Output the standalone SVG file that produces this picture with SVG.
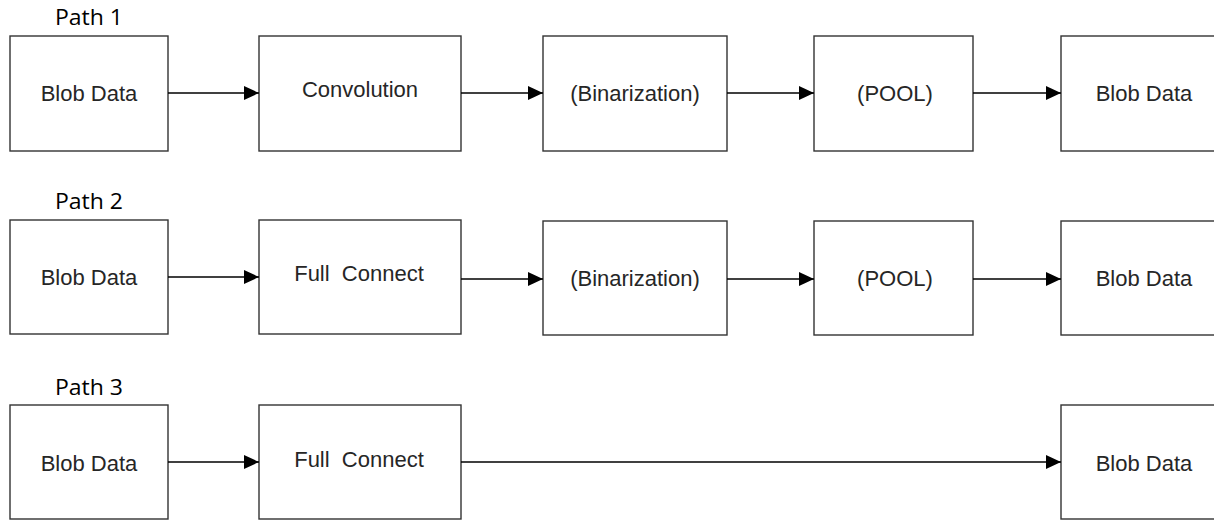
<svg xmlns="http://www.w3.org/2000/svg" width="1214" height="521" viewBox="0 0 1214 521">
  <style>
    .box { fill: #ffffff; stroke: #333333; stroke-width: 1.4; }
    .lbl { font-family: "Liberation Sans", Arial, sans-serif; font-size: 22px; fill: #262626; text-anchor: middle; }
    .path { font-family: "Open Sans", "Noto Sans", sans-serif; font-size: 22px; fill: #000000; }
    .edge { stroke: #000000; stroke-width: 1.4; fill: none; marker-end: url(#head); }
  </style>
  <defs>
    <marker id="head" markerWidth="15" markerHeight="14" refX="15" refY="7" orient="auto" markerUnits="userSpaceOnUse">
      <path d="M0,0 L15,7 L0,14 Z" fill="#000000"/>
    </marker>
  </defs>
  <rect width="1214" height="521" fill="#ffffff"/>

  <!-- row titles -->
  <text class="path" x="55" y="25" textLength="68" lengthAdjust="spacingAndGlyphs">Path 1</text>
  <text class="path" x="55" y="209" textLength="68" lengthAdjust="spacingAndGlyphs">Path 2</text>
  <text class="path" x="55" y="395" textLength="68" lengthAdjust="spacingAndGlyphs">Path 3</text>

  <!-- Path 1 -->
  <g id="p1-in"><rect class="box" x="10" y="36" width="158" height="115"/><text class="lbl" x="89" y="101">Blob Data</text></g>
  <g id="p1-conv"><rect class="box" x="259" y="36" width="202" height="115"/><text class="lbl" x="360" y="97">Convolution</text></g>
  <g id="p1-bin"><rect class="box" x="543" y="36" width="184" height="115"/><text class="lbl" x="635" y="101">(Binarization)</text></g>
  <g id="p1-pool"><rect class="box" x="814" y="36" width="159" height="115"/><text class="lbl" x="895" y="101">(POOL)</text></g>
  <g id="p1-out"><rect class="box" x="1061" y="36" width="160" height="115"/><text class="lbl" x="1144" y="101">Blob Data</text></g>

  <!-- Path 2 -->
  <g id="p2-in"><rect class="box" x="10" y="220" width="158" height="114"/><text class="lbl" x="89" y="285">Blob Data</text></g>
  <g id="p2-fc"><rect class="box" x="259" y="220" width="202" height="114"/><text class="lbl" x="359" y="281" xml:space="preserve">Full  Connect</text></g>
  <g id="p2-bin"><rect class="box" x="543" y="221" width="184" height="114"/><text class="lbl" x="635" y="286">(Binarization)</text></g>
  <g id="p2-pool"><rect class="box" x="814" y="221" width="159" height="114"/><text class="lbl" x="895" y="286">(POOL)</text></g>
  <g id="p2-out"><rect class="box" x="1061" y="221" width="160" height="114"/><text class="lbl" x="1144" y="286">Blob Data</text></g>

  <!-- Path 3 -->
  <g id="p3-in"><rect class="box" x="10" y="405" width="158" height="114"/><text class="lbl" x="89" y="471">Blob Data</text></g>
  <g id="p3-fc"><rect class="box" x="259" y="405" width="202" height="114"/><text class="lbl" x="359" y="467" xml:space="preserve">Full  Connect</text></g>
  <g id="p3-out"><rect class="box" x="1061" y="405" width="160" height="114"/><text class="lbl" x="1144" y="471">Blob Data</text></g>

  <!-- connectors -->
  <g id="connectors">
    <line class="edge" x1="168" y1="93" x2="259" y2="93"/>
    <line class="edge" x1="461" y1="93" x2="543" y2="93"/>
    <line class="edge" x1="727" y1="93" x2="814" y2="93"/>
    <line class="edge" x1="973" y1="93" x2="1061" y2="93"/>

    <line class="edge" x1="168" y1="277" x2="259" y2="277"/>
    <line class="edge" x1="461" y1="279" x2="543" y2="279"/>
    <line class="edge" x1="727" y1="279" x2="814" y2="279"/>
    <line class="edge" x1="973" y1="279" x2="1061" y2="279"/>

    <line class="edge" x1="168" y1="462" x2="259" y2="462"/>
    <line class="edge" x1="461" y1="462" x2="1061" y2="462"/>
  </g>
</svg>
